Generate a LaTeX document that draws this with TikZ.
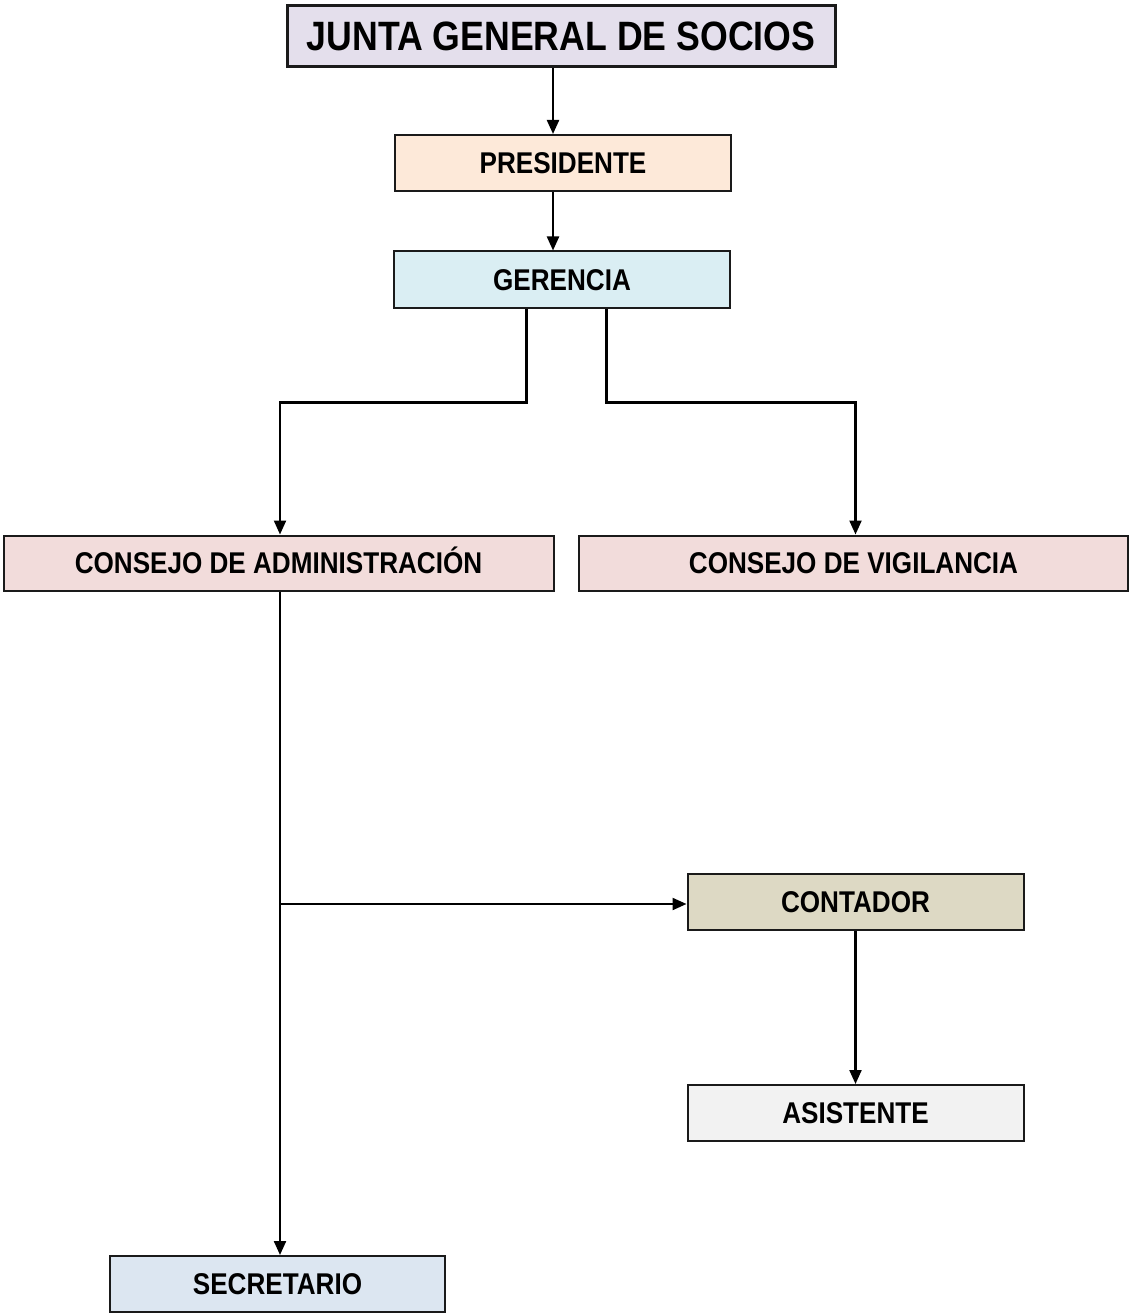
\documentclass[tikz,border=0pt]{standalone}
\usepackage{fontspec}
\setmainfont{Liberation Sans}[FakeStretch=0.87]
\usetikzlibrary{arrows.meta}
\definecolor{cJunta}{HTML}{E4DFEC}
\definecolor{cPres}{HTML}{FDE9D9}
\definecolor{cGer}{HTML}{DAEEF3}
\definecolor{cCons}{HTML}{F2DCDB}
\definecolor{cCont}{HTML}{DDD9C4}
\definecolor{cAsis}{HTML}{F2F2F2}
\definecolor{cSec}{HTML}{DCE6F1}
\definecolor{edge}{HTML}{1A1A1A}
\begin{document}
\begin{tikzpicture}[x=1pt,y=-1pt,
  box/.style={draw=edge,line width=2pt,rectangle,inner sep=0pt,
    minimum width=336pt,minimum height=56pt,
    font=\fontsize{30}{30}\selectfont\bfseries,
    text height=21.5pt,text depth=0pt},
  conn/.style={line width=2.2pt,draw=black},
  arr/.style={conn,-{Triangle[length=14pt,width=12pt]}}]
\useasboundingbox (0,0) rectangle (1128,1313);
% boxes
\node[box,fill=cJunta,line width=3pt,minimum width=548pt,minimum height=61pt,
  font=\fontsize{41}{41}\selectfont\bfseries,text height=29.4pt]
  (junta) at (561,36) {JUNTA GENERAL DE SOCIOS};
\node[box,fill=cPres] (pres) at (563,163) {PRESIDENTE};
\node[box,fill=cGer] (ger) at (562,279.5) {GERENCIA};
\node[box,fill=cCons,minimum width=550pt,minimum height=55pt] (adm) at (278.5,563) {CONSEJO DE ADMINISTRACIÓN};
\node[box,fill=cCons,minimum width=549pt,minimum height=55pt] (vig) at (853.5,563) {CONSEJO DE VIGILANCIA};
\node[box,fill=cCont] (cont) at (855.5,902) {CONTADOR};
\node[box,fill=cAsis] (asis) at (855.5,1113) {ASISTENTE};
\node[box,fill=cSec,minimum width=335pt] (sec) at (277.5,1284) {SECRETARIO};
% routing points
\coordinate (spine) at (553,0);
\coordinate (gl) at (526.5,402.5);
\coordinate (gr) at (606.5,402.5);
\coordinate (al) at (280,402.5);
\coordinate (vr) at (855.5,402.5);
\coordinate (tap) at (280,904);
% connectors
\draw[arr] (junta.south -| spine) -- (pres.north -| spine);
\draw[arr] (pres.south -| spine) -- (ger.north -| spine);
\draw[arr] (ger.south -| gl) -- (gl) -- (al) -- (adm.north -| al);
\draw[arr] (ger.south -| gr) -- (gr) -- (vr) -- (vig.north -| vr);
\draw[arr] (adm.south -| al) -- (sec.north -| al);
\draw[arr] (tap) -- (cont.west |- tap);
\draw[arr] (cont.south) -- (asis.north);
\end{tikzpicture}
\end{document}
